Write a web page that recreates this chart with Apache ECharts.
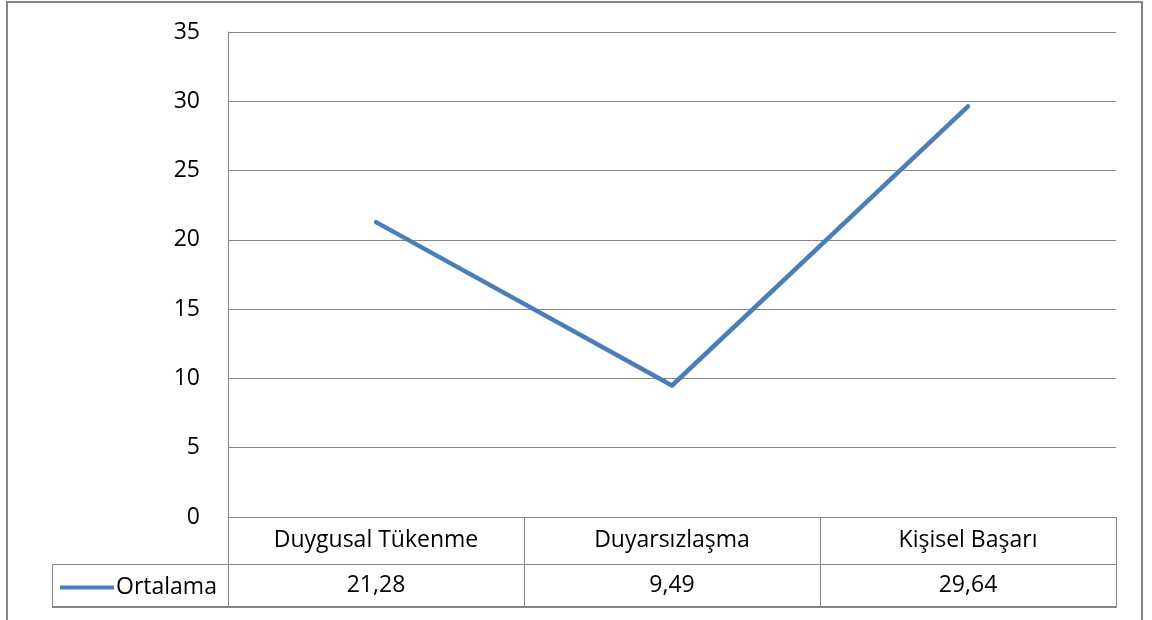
<!DOCTYPE html>
<html>
<head>
<meta charset="utf-8">
<script src="https://cdn.jsdelivr.net/npm/echarts@6/dist/echarts.min.js"></script>
<style>
  html, body { margin: 0; padding: 0; background: #fff; }
  #chart { width: 1152px; height: 620px; }
</style>
</head>
<body>
<div id="chart"></div>
<script>
// Burnout subscale means (line chart with data table underneath)
const categories = ['Duygusal Tükenme', 'Duyarsızlaşma', 'Kişisel Başarı'];
const seriesName = 'Ortalama';
const ortalama = [21.28, 9.49, 29.64];
const yTicks = [0, 5, 10, 15, 20, 25, 30, 35];

const FONT = '"Open Sans", Lato, sans-serif';
const FONT_SIZE = 23;
const GRAY = '#868686';
const BLUE = '#4a7ebb';

// layout of plot and table
const PLOT_LEFT = 228, PLOT_RIGHT = 1116, PLOT_TOP = 32, PLOT_BOTTOM = 517;
const ROW1 = 47, ROW2 = 43;
const LEGEND_LEFT = 52;

const fmt = v => v.toFixed(2).replace('.', ',');

const chart = echarts.init(document.getElementById('chart'), null, { renderer: 'canvas' });

chart.setOption({
  animation: false,
  backgroundColor: '#fff',
  textStyle: { fontFamily: FONT },
  grid: {
    left: PLOT_LEFT,
    right: 1152 - PLOT_RIGHT,
    top: PLOT_TOP,
    bottom: 620 - PLOT_BOTTOM,
    containLabel: false
  },
  legend: {
    data: [seriesName],
    left: 55,
    top: PLOT_BOTTOM + ROW1 + 7,
    icon: 'rect',
    itemWidth: 54,
    itemHeight: 4,
    textStyle: { fontFamily: FONT, fontSize: FONT_SIZE, color: '#000', padding: [0, 0, 0, -3] },
    selectedMode: false
  },
  xAxis: [
    {
      type: 'category',
      data: categories,
      boundaryGap: true,
      position: 'bottom',
      axisLine: { show: true, lineStyle: { color: GRAY, width: 1 } },
      axisTick: { show: true, length: ROW1, lineStyle: { color: GRAY, width: 1 } },
      axisLabel: { margin: 12, fontFamily: FONT, fontSize: FONT_SIZE, color: '#000' },
      splitLine: { show: false }
    },
    {
      type: 'category',
      data: categories,
      boundaryGap: true,
      position: 'bottom',
      offset: ROW1,
      axisLine: { show: true, lineStyle: { color: GRAY, width: 1 } },
      axisTick: { show: true, length: ROW2, lineStyle: { color: GRAY, width: 1 } },
      axisLabel: {
        margin: 10, fontFamily: FONT, fontSize: FONT_SIZE, color: '#000',
        formatter: (v, i) => fmt(ortalama[i])
      },
      splitLine: { show: false }
    },
    {
      type: 'category',
      data: categories,
      boundaryGap: true,
      position: 'bottom',
      offset: ROW1 + ROW2,
      axisLine: { show: true, lineStyle: { color: GRAY, width: 2 } },
      axisTick: { show: false },
      axisLabel: { show: false },
      splitLine: { show: false }
    }
  ],
  yAxis: {
    type: 'value',
    min: yTicks[0],
    max: yTicks[yTicks.length - 1],
    interval: 5,
    axisLine: { show: true, lineStyle: { color: GRAY, width: 1 } },
    axisTick: { show: false },
    axisLabel: { margin: 28, fontFamily: FONT, fontSize: FONT_SIZE, color: '#000' },
    splitLine: { show: true, lineStyle: { color: GRAY, width: 1 } }
  },
  series: [
    {
      name: seriesName,
      type: 'line',
      data: ortalama,
      xAxisIndex: 0,
      symbol: 'none',
      color: BLUE,
      lineStyle: { color: BLUE, width: 4.5, cap: 'round', join: 'round' }
    }
  ],
  graphic: [
    // outer chart frame
    {
      type: 'rect',
      shape: { x: 7, y: 2, width: 1135, height: 640 },
      style: { fill: 'none', stroke: GRAY, lineWidth: 2 },
      silent: true
    },
    // legend key cell of the data table
    {
      type: 'polyline',
      shape: { points: [[PLOT_LEFT, PLOT_BOTTOM + ROW1 + 0.5], [LEGEND_LEFT + 0.5, PLOT_BOTTOM + ROW1 + 0.5], [LEGEND_LEFT + 0.5, PLOT_BOTTOM + ROW1 + ROW2]] },
      style: { fill: 'none', stroke: GRAY, lineWidth: 1 },
      silent: true
    },
    {
      type: 'line',
      shape: { x1: LEGEND_LEFT, y1: PLOT_BOTTOM + ROW1 + ROW2, x2: PLOT_LEFT, y2: PLOT_BOTTOM + ROW1 + ROW2 },
      style: { stroke: GRAY, lineWidth: 2 },
      silent: true
    }
  ]
});
</script>
</body>
</html>
